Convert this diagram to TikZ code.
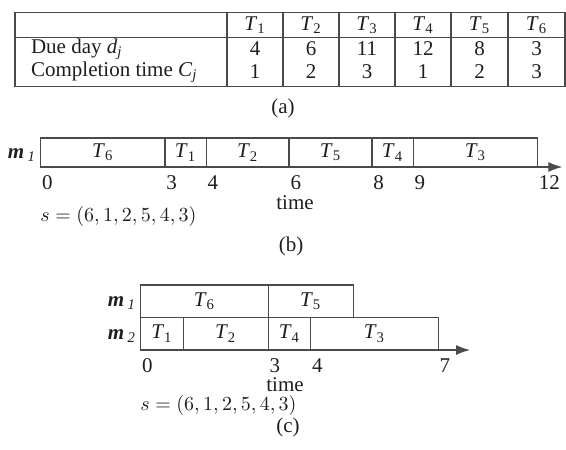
\documentclass[tikz,border=0pt]{standalone}
\usepackage{fontspec}
\setmainfont{Liberation Serif}
\usetikzlibrary{arrows.meta}
\definecolor{linec}{HTML}{4A4A4A}
\definecolor{textc}{HTML}{1E1E1E}
\newcommand{\tk}[1]{\textit{T}\textsubscript{#1}}
\newcommand{\mach}[1]{\textbf{\textit{m}}\,\textsubscript{\textit{#1}}}

\begin{document}
\begin{tikzpicture}[x=0.5pt,y=-0.5pt,
      font=\fontsize{10.5pt}{12pt}\selectfont,text=textc,
      grid/.style={draw=linec,line width=0.7pt},
      bar/.style={draw=linec,line width=0.7pt},
      axis/.style={draw=linec,line width=0.7pt,-{Latex[length=7pt,width=5pt]}},
      ticklab/.style={anchor=north west,inner xsep=0.5pt,inner ysep=0pt,yshift=-4pt},
      capt/.style={inner sep=0pt},
      seq/.style={inner sep=0pt,anchor=west,font=\fontsize{10pt}{11pt}\selectfont}]
    \useasboundingbox (0,0) rectangle (566,449);
    % table (a)
    \draw[grid] (15,12.7) rectangle (565,86.7);
    \draw[grid] (15,37.7) -- (565,37.7);
    \draw[grid] (227,12.7) -- (227,86.7) (283,12.7) -- (283,86.7) (339,12.7) -- (339,86.7)
      (395,12.7) -- (395,86.7) (451,12.7) -- (451,86.7) (508,12.7) -- (508,86.7);
    \node (h1) at (255,25) {\tk{1}};
    \node (h2) at (311,25) {\tk{2}};
    \node (h3) at (367,25) {\tk{3}};
    \node (h4) at (423,25) {\tk{4}};
    \node (h5) at (479.5,25) {\tk{5}};
    \node (h6) at (536.5,25) {\tk{6}};
    \node[anchor=west] (dd) at (24,49) {Due day \textit{d}\textsubscript{\textit{j}}};
    \node[anchor=west] (ct) at (24,72) {Completion time \textit{C}\textsubscript{\textit{j}}};
    \node (d1) at (255,49) {4};
    \node (d2) at (311,49) {6};
    \node (d3) at (367,49) {11};
    \node (d4) at (423,49) {12};
    \node (d5) at (479.5,49) {8};
    \node (d6) at (536.5,49) {3};
    \node (c1) at (255,72) {1};
    \node (c2) at (311,72) {2};
    \node (c3) at (367,72) {3};
    \node (c4) at (423,72) {1};
    \node (c5) at (479.5,72) {2};
    \node (c6) at (536.5,72) {3};
    \node[capt] (capa) at (283,108) {(a)};
    % schedule (b)
    \node (bm1) at (22,155) {\mach{1}};
    \begin{scope}[shift={(40.7,167)},x=20.7pt,y=14.5pt]
      \draw[bar] (0,0) rectangle (3,1) node[midway] (b6) {\tk{6}};
      \draw[bar] (3,0) rectangle (4,1) node[midway] (b1) {\tk{1}};
      \draw[bar] (4,0) rectangle (6,1) node[midway] (b2) {\tk{2}};
      \draw[bar] (6,0) rectangle (8,1) node[midway] (b5) {\tk{5}};
      \draw[bar] (8,0) rectangle (9,1) node[midway] (b4) {\tk{4}};
      \draw[bar] (9,0) rectangle (12,1) node[midway] (b3) {\tk{3}};
      \coordinate (bo) at (0,0);
      \coordinate (be) at (12.6,0);
      \draw[axis] (bo) -- (be);
      \node[ticklab] (bt0) at (0,0) {0};
      \node[ticklab] (bt3) at (3,0) {3};
      \node[ticklab] (bt4) at (4,0) {4};
      \node[ticklab] (bt6) at (6,0) {6};
      \node[ticklab] (bt8) at (8,0) {8};
      \node[ticklab] (bt9) at (9,0) {9};
      \node[ticklab] (bt12) at (12,0) {12};
    \end{scope}
    \node[capt] (btime) at (295,203) {time};
    \node[seq] (bseq) at (40,216) {$s=(6,1,2,5,4,3)$};
    \node[capt] (capb) at (291,246) {(b)};
    % schedule (c)
    \node (cm1) at (122,303) {\mach{1}};
    \node (cm2) at (122,336) {\mach{2}};
    \begin{scope}[shift={(140.7,350)},x=21.25pt,y=16.25pt]
      \draw[bar] (0,1) rectangle (3,2) node[midway] (c16) {\tk{6}};
      \draw[bar] (3,1) rectangle (5,2) node[midway] (c15) {\tk{5}};
      \draw[bar] (0,0) rectangle (1,1) node[midway] (c21) {\tk{1}};
      \draw[bar] (1,0) rectangle (3,1) node[midway] (c22) {\tk{2}};
      \draw[bar] (3,0) rectangle (4,1) node[midway] (c24) {\tk{4}};
      \draw[bar] (4,0) rectangle (7,1) node[midway] (c23) {\tk{3}};
      \coordinate (co) at (0,0);
      \coordinate (ce) at (7.75,0);
      \draw[axis] (co) -- (ce);
      \node[ticklab] (ct0) at (0,0) {0};
      \node[ticklab] (ct3) at (3,0) {3};
      \node[ticklab] (ct4) at (4,0) {4};
      \node[ticklab] (ct7) at (7,0) {7};
    \end{scope}
    \node[capt] (ctime) at (285,385) {time};
    \node[seq] (cseq) at (140,405) {$s=(6,1,2,5,4,3)$};
    \node[capt] (capc) at (288,427) {(c)};
  \end{tikzpicture}
\end{document}
